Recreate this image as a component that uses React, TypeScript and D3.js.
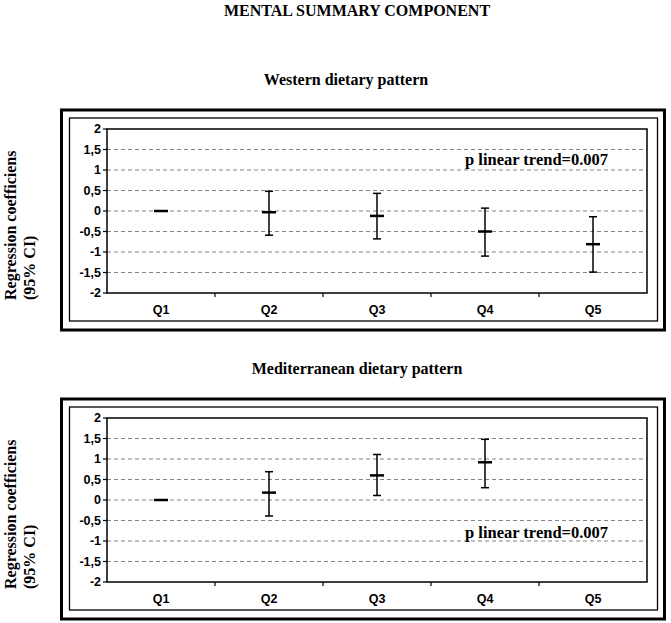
import * as d3 from "d3";

const categories = ["Q1", "Q2", "Q3", "Q4", "Q5"];
const yTicks = [-2, -1.5, -1, -0.5, 0, 0.5, 1, 1.5, 2];

const westernMean = [0, -0.03, -0.12, -0.5, -0.81];
const westernLow = [null, -0.59, -0.68, -1.1, -1.49];
const westernHigh = [null, 0.48, 0.43, 0.07, -0.14];

const medMean = [0, 0.18, 0.6, 0.92, null];
const medLow = [null, -0.39, 0.11, 0.3, null];
const medHigh = [null, 0.69, 1.11, 1.48, null];

const SERIF = "'Liberation Serif', 'Times New Roman', serif";
const SANS = "'Liberation Sans', Arial, sans-serif";

const fmt = (v: number) => String(v).replace(".", ",");

type PanelProps = {
  top: number;
  title: string;
  titleX: number;
  mean: (number | null)[];
  low: (number | null)[];
  high: (number | null)[];
  trendY: number;
};

function Panel({ top, title, titleX, mean, low, high, trendY }: PanelProps) {
  const plotTop = top + 19;
  const plotBottom = top + 183;
  const left = 107;
  const right = 647;

  const x = d3.scaleBand<string>().domain(categories).range([left, right]);
  const y = d3.scaleLinear().domain([-2, 2]).range([plotBottom, plotTop]);
  const cx = (c: string) => (x(c) ?? 0) + x.bandwidth() / 2;

  return (
    <g>
      <text
        x={titleX}
        y={top - 25}
        textAnchor="middle"
        fontFamily={SERIF}
        fontWeight="bold"
        fontSize={16}
      >
        {title}
      </text>
      {/* frames */}
      <rect x={61.5} y={top} width={603} height={220} fill="none" stroke="#000" strokeWidth={3} />
      <rect x={69.5} y={top + 8} width={588} height={203} fill="none" stroke="#000" strokeWidth={1.3} />

      {/* y label */}
      <g fontFamily={SERIF} fontWeight="bold" fontSize={16}>
        <text transform={`translate(16,${top + 190}) rotate(-90)`}>Regression coefficiens</text>
        <text transform={`translate(35,${top + 190}) rotate(-90)`}>(95% CI)</text>
      </g>

      {/* grid */}
      {yTicks
        .filter((t) => t > -2 && t < 2)
        .map((t) => (
          <line
            key={t}
            x1={left}
            x2={right}
            y1={y(t)}
            y2={y(t)}
            stroke="#666"
            strokeWidth={0.8}
            strokeDasharray="4,3"
          />
        ))}

      {/* plot border */}
      <rect
        x={left}
        y={plotTop}
        width={right - left}
        height={plotBottom - plotTop}
        fill="none"
        stroke="#000"
        strokeWidth={1.5}
      />

      {/* y ticks */}
      {yTicks.map((t) => (
        <g key={t}>
          <line x1={left - 4} x2={left} y1={y(t)} y2={y(t)} stroke="#000" strokeWidth={1.2} />
          <text
            x={left - 6}
            y={y(t)}
            dy="0.35em"
            textAnchor="end"
            fontFamily={SANS}
            fontWeight="bold"
            fontSize={12.5}
          >
            {fmt(t)}
          </text>
        </g>
      ))}

      {/* x ticks */}
      {categories.map((c, i) => (
        <g key={c}>
          {i > 0 && (
            <line
              x1={x(c)}
              x2={x(c)}
              y1={plotBottom}
              y2={plotBottom + 4}
              stroke="#000"
              strokeWidth={1.2}
            />
          )}
          <text
            x={cx(c)}
            y={plotBottom + 21}
            textAnchor="middle"
            fontFamily={SANS}
            fontWeight="bold"
            fontSize={12.5}
          >
            {c}
          </text>
        </g>
      ))}

      {/* error bars */}
      {categories.map((c, i) => {
        const m = mean[i];
        const lo = low[i];
        const hi = high[i];
        const px = cx(c);
        return (
          <g key={c} stroke="#000">
            {lo != null && hi != null && (
              <>
                <line x1={px} x2={px} y1={y(hi)} y2={y(lo)} strokeWidth={1.5} />
                <line x1={px - 4} x2={px + 4} y1={y(hi)} y2={y(hi)} strokeWidth={1.5} />
                <line x1={px - 4} x2={px + 4} y1={y(lo)} y2={y(lo)} strokeWidth={1.5} />
              </>
            )}
            {m != null && (
              <line x1={px - 7} x2={px + 7} y1={y(m)} y2={y(m)} strokeWidth={2.5} />
            )}
          </g>
        );
      })}

      <text x={465} y={trendY} fontFamily={SERIF} fontWeight="bold" fontSize={16.5}>
        p linear trend=0.007
      </text>
    </g>
  );
}

export default function App() {
  return (
    <div style={{ position: "absolute", left: 0, top: 0 }}>
      <svg width={671} height={623} style={{ display: "block", background: "#fff" }}>
        <text
          x={357}
          y={16}
          textAnchor="middle"
          fontFamily={SERIF}
          fontWeight="bold"
          fontSize={16}
        >
          MENTAL SUMMARY COMPONENT
        </text>
        <Panel
          top={110}
          title="Western dietary pattern"
          titleX={346}
          mean={westernMean}
          low={westernLow}
          high={westernHigh}
          trendY={165}
        />
        <Panel
          top={399}
          title="Mediterranean dietary pattern"
          titleX={357}
          mean={medMean}
          low={medLow}
          high={medHigh}
          trendY={538}
        />
      </svg>
    </div>
  );
}
